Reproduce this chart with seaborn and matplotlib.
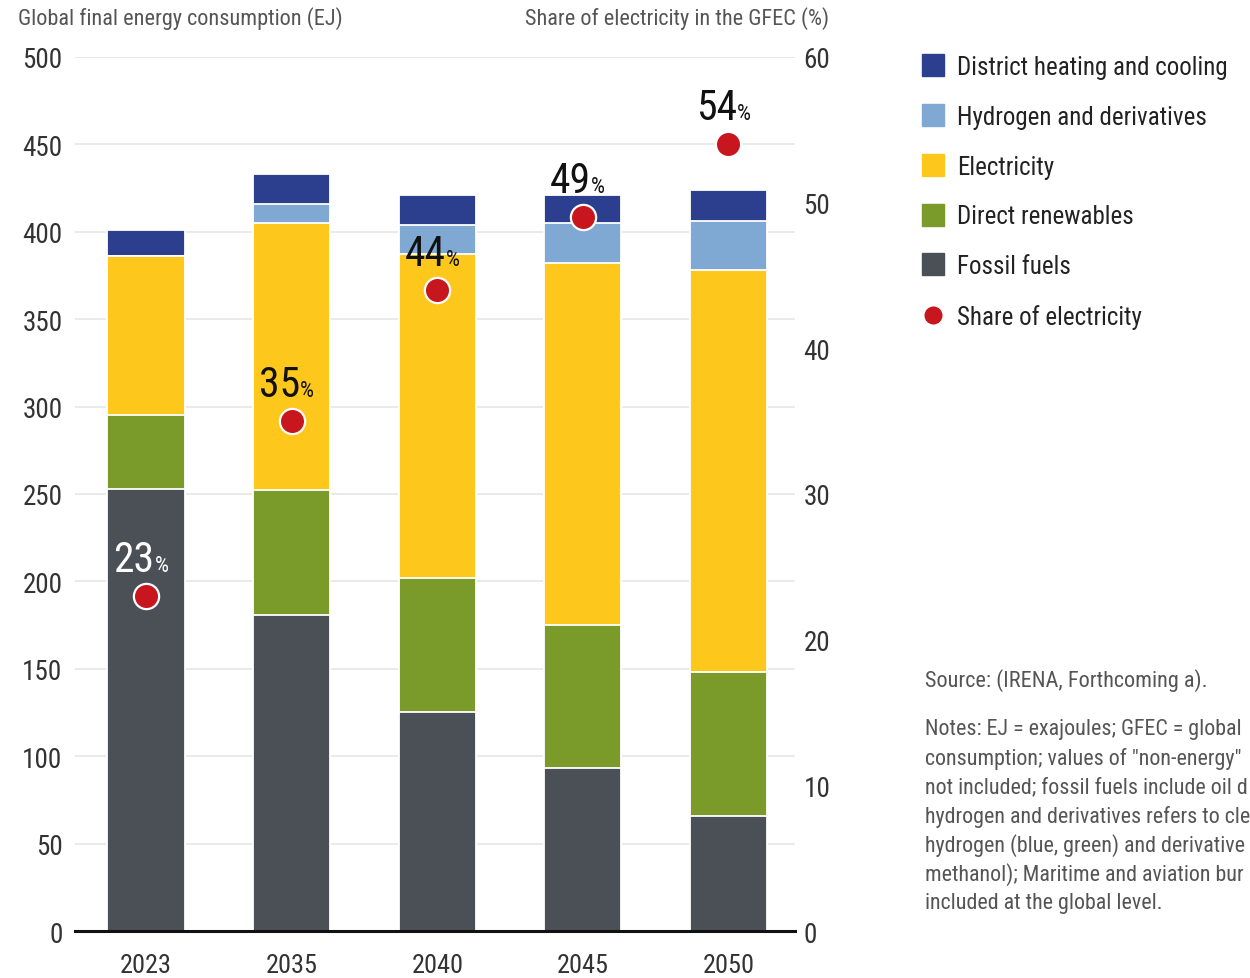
import os
import numpy as np
import pandas as pd
import matplotlib
matplotlib.use("Agg")
import matplotlib.pyplot as plt
from matplotlib.lines import Line2D
from matplotlib import font_manager as fm
import seaborn as sns

# ---- data -------------------------------------------------------------
years = ["2023", "2035", "2040", "2045", "2050"]
fossil_fuels = [253, 181, 125, 93, 66]
direct_renewables = [42, 71, 77, 82, 82]
electricity = [91, 153, 185, 207, 230]
hydrogen = [0, 11, 17, 23, 28]
district_heating = [15, 17, 17, 16, 18]
share_electricity = [23, 35, 44, 49, 54]   # % of GFEC

series_names = ["Fossil fuels", "Direct renewables", "Electricity",
                "Hydrogen and derivatives", "District heating and cooling"]
series_colors = ["#4a5056", "#7a9a2a", "#fdc81b", "#7fa9d3", "#2b3f8e"]
dot_color = "#c8161e"

# ---- fonts: prefer a narrow sans face ---------------------------------
sns.set_theme(style="white")


def find_narrow_face():
    prefs = ["robotocondensed-regular", "liberationsansnarrow-regular",
             "notosans-condensed.", "notosans-condensedregular",
             "dejavusanscondensed.", "opensans-condensed",
             "notosans-semicondensed.", "notosans-semicondensedregular"]
    entries = fm.fontManager.ttflist
    for p in prefs:
        for e in entries:
            if p in os.path.basename(e.fname).lower():
                return e
    for e in entries:
        b = os.path.basename(e.fname).lower()
        if ("condensed" in b or "narrow" in b) and e.style == "normal" \
                and e.weight in (400, "normal", "regular"):
            return e
    return None


face = find_narrow_face()
if face is not None:
    plt.rcParams["font.family"] = [face.name, "DejaVu Sans"]
    plt.rcParams["font.stretch"] = face.stretch
else:
    plt.rcParams["font.family"] = ["Roboto", "DejaVu Sans"]

text_grey = "#555555"
tick_grey = "#333333"

fig = plt.figure(figsize=(12.5, 9.79), dpi=100)
ax = fig.add_axes([0.06, 0.048, 0.576, 0.8928])

# ---- stacked bars (cumulative totals drawn from the top down) ----------
layers = np.array([fossil_fuels, direct_renewables, electricity,
                   hydrogen, district_heating], dtype=float)
cumulative = np.cumsum(layers, axis=0)
for k in range(len(series_names) - 1, -1, -1):
    df = pd.DataFrame({"year": years, "value": cumulative[k]})
    sns.barplot(data=df, x="year", y="value", color=series_colors[k],
                saturation=1, width=0.53, edgecolor="white", linewidth=1.3,
                ax=ax, zorder=3)

ax.set_xlim(-0.488, 4.457)
ax.set_ylim(0, 500)
ax.set_yticks(np.arange(0, 501, 50))
ax.set_xlabel("")
ax.set_ylabel("")
ax.grid(axis="y", color="#e6e6e6", linewidth=1.2, zorder=0)
ax.grid(axis="x", visible=False)
for side in ["top", "right", "left"]:
    ax.spines[side].set_visible(False)
ax.spines["bottom"].set_color("#111111")
ax.spines["bottom"].set_linewidth(2.2)
ax.spines["bottom"].set_zorder(5)
ax.tick_params(axis="y", length=0, pad=9, labelsize=19.5, labelcolor=tick_grey)
ax.tick_params(axis="x", length=0, pad=16, labelsize=19, labelcolor=tick_grey)

# ---- share of electricity on the secondary axis -------------------------
ax2 = ax.twinx()
ax2.set_ylim(0, 60)
ax2.set_yticks(np.arange(0, 61, 10))
ax2.grid(False)
for side in ["top", "right", "left", "bottom"]:
    ax2.spines[side].set_visible(False)
ax2.tick_params(axis="y", length=0, pad=6, labelsize=19.5, labelcolor=tick_grey)
xpos = np.arange(len(years))
sns.scatterplot(x=xpos, y=share_electricity, color=dot_color, s=330,
                edgecolor="white", linewidth=1.6, ax=ax2, zorder=6, legend=False)
ax2.set_ylabel("")

for i, val in enumerate(share_electricity):
    col = "white" if i == 0 else "#111111"
    ax2.annotate(f"{val}", xy=(i, val), xytext=(6, 18), textcoords="offset points",
                 ha="right", va="baseline", fontsize=30, color=col, zorder=7)
    ax2.annotate("%", xy=(i, val), xytext=(6, 18), textcoords="offset points",
                 ha="left", va="baseline", fontsize=16, color=col, zorder=7)

# ---- axis titles ------------------------------------------------------
fig.text(18 / 1250, 1 - 19 / 979, "Global final energy consumption (EJ)",
         ha="left", va="center", fontsize=16, color=text_grey)
fig.text(829 / 1250, 1 - 19 / 979, "Share of electricity in the GFEC (%)",
         ha="right", va="center", fontsize=16, color=text_grey)

# ---- legend -----------------------------------------------------------
handles = []
for name in series_names[::-1]:
    c = series_colors[series_names.index(name)]
    handles.append(Line2D([], [], marker="s", linestyle="none", markersize=16,
                          markerfacecolor=c, markeredgecolor=c, label=name))
handles.append(Line2D([], [], marker="o", linestyle="none", markersize=14,
                      markerfacecolor=dot_color, markeredgecolor="white",
                      label="Share of electricity"))
fig.legend(handles=handles, loc="upper left",
           bbox_to_anchor=(921 / 1250, 1 - 56 / 979), frameon=False,
           fontsize=18, labelspacing=1.03, handlelength=0.95, handletextpad=0.5,
           borderpad=0, borderaxespad=0, labelcolor="#222222")

# ---- source and notes (the note column runs past the right edge) ------
fig.text(925 / 1250, 1 - 681 / 979, "Source: (IRENA, Forthcoming a).",
         ha="left", va="center", fontsize=16, color=text_grey)
note_lines = [
    "Notes: EJ = exajoules; GFEC = global",
    "consumption; values of \"non-energy\"",
    "not included; fossil fuels include oil d",
    "hydrogen and derivatives refers to cle",
    "hydrogen (blue, green) and derivative",
    "methanol); Maritime and aviation bur",
    "included at the global level.",
]
for j, line in enumerate(note_lines):
    fig.text(925 / 1250, 1 - (730 + 29 * j) / 979, line,
             ha="left", va="center", fontsize=15.8, color=text_grey)

fig.savefig("out.png", dpi=100)
